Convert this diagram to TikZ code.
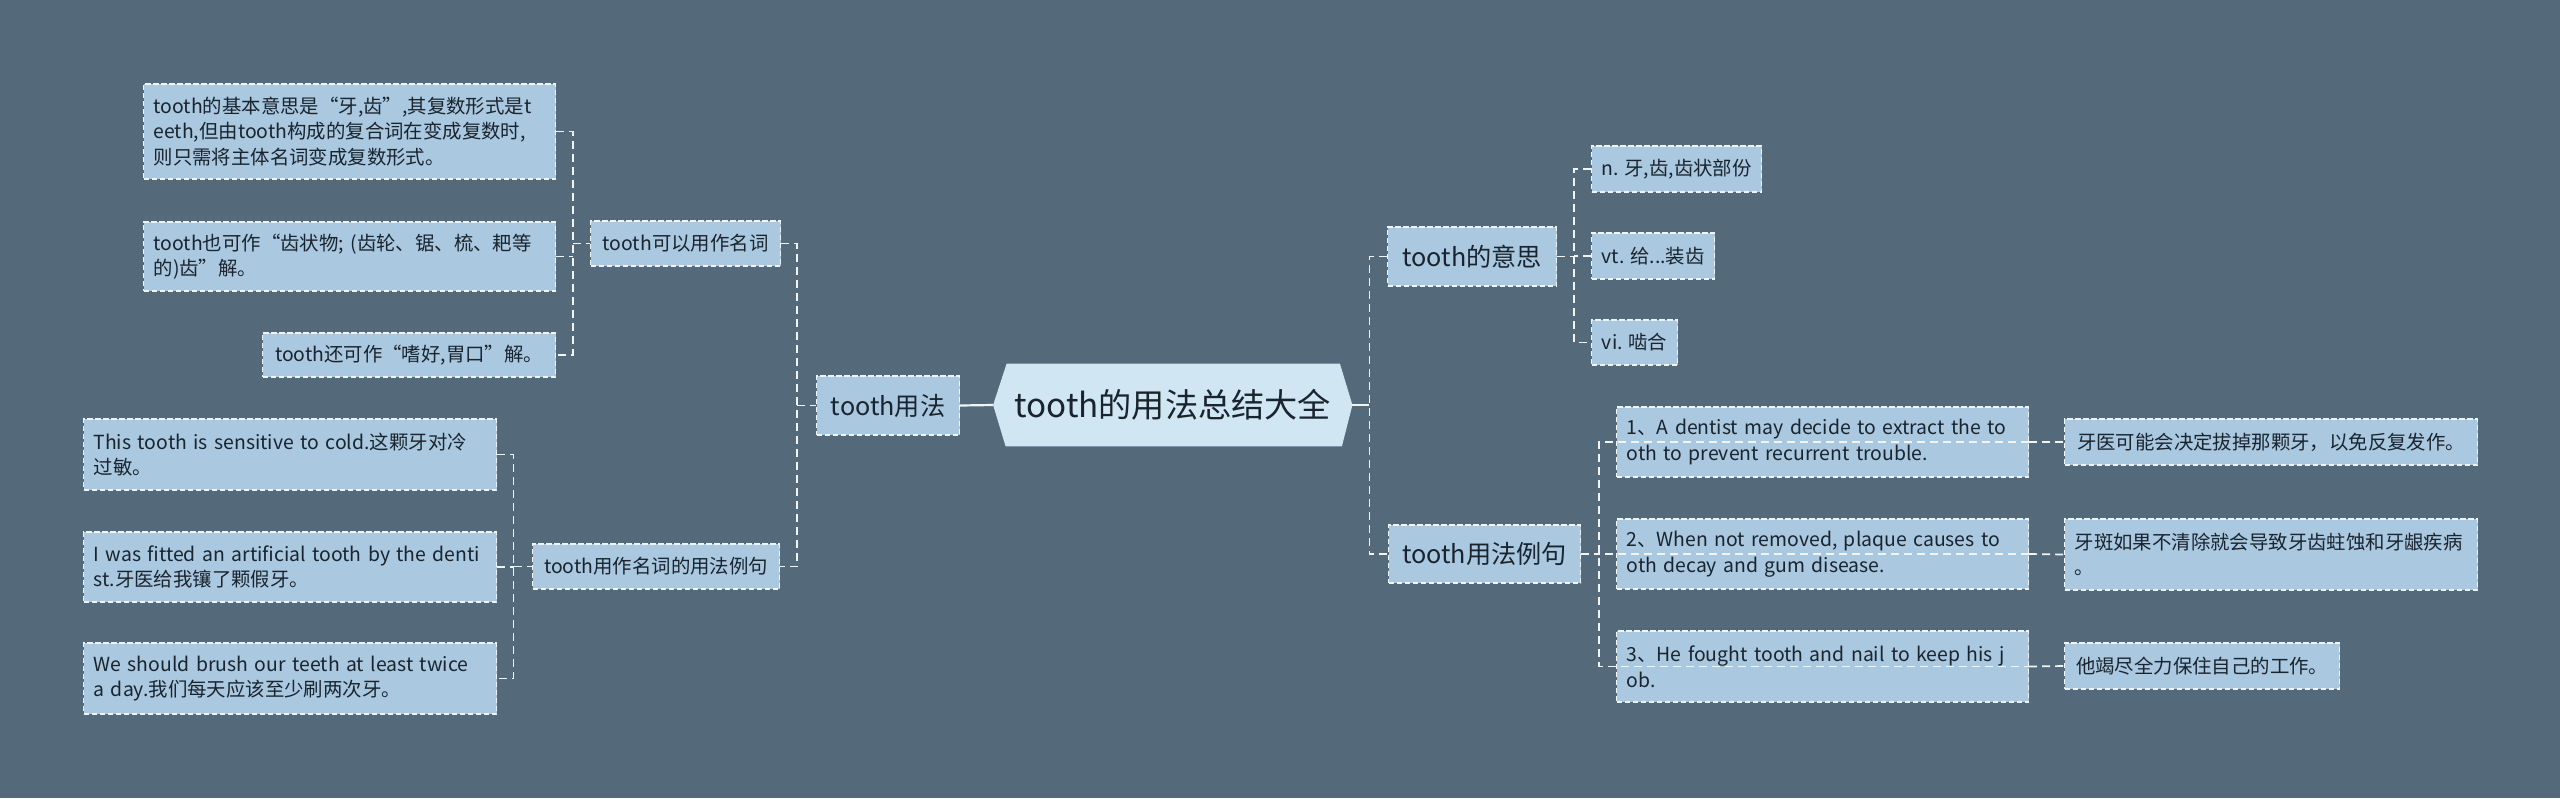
\documentclass[tikz,border=0pt]{standalone}
\usepackage{fontspec}
\setmainfont{Noto Sans CJK SC}
\usetikzlibrary{calc,backgrounds}
\definecolor{bgc}{HTML}{546A7A}
\definecolor{leaffill}{HTML}{AAC8E0}
\definecolor{rootfill}{HTML}{D0E6F2}
\definecolor{txt}{HTML}{1A242E}
\definecolor{edge}{HTML}{EEF4F8}
\begin{document}
\begin{tikzpicture}[x=0.5pt,y=-0.5pt,
  box/.style={draw=edge, dash pattern=on 2.6pt off 1.4pt, line width=0.6pt, fill=leaffill, text=txt, anchor=west, inner ysep=0pt},
  leaf/.style={box, font=\fontsize{9.7}{12.8}\selectfont, inner xsep=5pt, align=left},
  tag/.style={box, font=\fontsize{9.7}{12.8}\selectfont, inner xsep=0pt, align=center},
  mid/.style={box, font=\fontsize{12.6}{15}\selectfont, inner xsep=0pt, align=center},
  conn/.style={draw=edge, line width=0.85pt, dash pattern=on 4pt off 2.5pt},
  solidconn/.style={draw=edge, line width=1.1pt}]
\begin{pgfonlayer}{background}
\fill[bgc] (0,0) rectangle (2560,798);
\end{pgfonlayer}
\useasboundingbox (0,0) rectangle (2560,798);

% left, upper group
\node[leaf, text width=196pt, minimum height=47.5pt] (a) at (143,131.5)
  {\mbox{tooth的基本意思是“牙,齿”,其复数形式是t}\\\mbox{eeth,但由tooth构成的复合词在变成复数时,}\\\mbox{则只需将主体名词变成复数形式。}};
\node[leaf, text width=196pt, minimum height=34.5pt] (b) at (143,256.5)
  {\mbox{tooth也可作“齿状物; (齿轮、锯、梳、耙等}\\\mbox{的)齿”解。}};
\node[tag, minimum width=146.5pt, minimum height=22pt] (c) at (262,355) {tooth还可作“嗜好,胃口”解。};
\node[tag, minimum width=95pt, minimum height=22.5pt] (p1) at (590,243.5) {tooth可以用作名词};

% left, lower group
\node[leaf, text width=196.5pt, minimum height=35.5pt] (d) at (83,454.5)
  {\mbox{This tooth is sensitive to cold.这颗牙对冷}\\\mbox{过敏。}};
\node[leaf, text width=196.5pt, minimum height=35pt] (e) at (83,567)
  {\mbox{I was fitted an artificial tooth by the denti}\\\mbox{st.牙医给我镶了颗假牙。}};
\node[leaf, text width=196.5pt, minimum height=35.5pt] (f) at (83,678.5)
  {\mbox{We should brush our teeth at least twice}\\\mbox{a day.我们每天应该至少刷两次牙。}};
\node[tag, minimum width=123.5pt, minimum height=22.5pt] (p2) at (532,566.5) {tooth用作名词的用法例句};

\node[mid, minimum width=71.5pt, minimum height=29.5pt] (l1) at (816,405.5) {tooth用法};

% root
\node[text=txt, font=\fontsize{16.6}{19}\selectfont, minimum width=179.25pt, minimum height=41pt, inner sep=0pt] (root) at (1172.75,405) {tooth的用法总结大全};
\begin{pgfonlayer}{background}
\fill[rootfill] (root.west) -- ($(root.north west)+(13.5,0)$) -- ($(root.north east)+(-12.5,0)$) -- (root.east) -- ($(root.south east)+(-10.5,0)$) -- ($(root.south west)+(12.5,0)$) -- cycle;
\end{pgfonlayer}

% right, upper group
\node[mid, minimum width=84.5pt, minimum height=29.5pt] (r1) at (1387,256.5) {tooth的意思};
\node[tag, minimum width=85pt, minimum height=23pt] (n) at (1591,169) {n. 牙,齿,齿状部份};
\node[tag, minimum width=61.5pt, minimum height=23pt] (vt) at (1591,256) {vt. 给...装齿};
\node[tag, minimum width=43pt, minimum height=22.5pt] (vi) at (1591,342.5) {vi. 啮合};

% right, lower group
\node[mid, minimum width=96pt, minimum height=29pt] (r2) at (1388,554) {tooth用法例句};
\node[leaf, text width=196pt, minimum height=35pt] (s1) at (1616,442)
  {\mbox{1、A dentist may decide to extract the to}\\\mbox{oth to prevent recurrent trouble.}};
\node[leaf, text width=196pt, minimum height=35pt] (s2) at (1616,554)
  {\mbox{2、When not removed, plaque causes to}\\\mbox{oth decay and gum disease.}};
\node[leaf, text width=196pt, minimum height=35.5pt] (s3) at (1616,666.5)
  {\mbox{3、He fought tooth and nail to keep his j}\\\mbox{ob.}};
\node[tag, minimum width=206.5pt, minimum height=23pt] (t1) at (2064,442) {牙医可能会决定拔掉那颗牙，以免反复发作。};
\node[leaf, text width=196.5pt, minimum height=35.5pt] (t2) at (2064,554.5)
  {\mbox{牙斑如果不清除就会导致牙齿蛀蚀和牙龈疾病}\\\mbox{。}};
\node[tag, minimum width=137.5pt, minimum height=23pt] (t3) at (2064,666) {他竭尽全力保住自己的工作。};

% connectors
\coordinate (j1) at ($(p1.west)+(-17,0)$);
\draw[conn] (a.east) -- (a.east -| j1) -- (c.east -| j1) -- (c.east);
\draw[conn] (b.east) -- (b.east -| j1);
\draw[conn] (j1) -- (p1.west);

\coordinate (j2) at ($(p2.west)+(-18.5,0)$);
\draw[conn] (d.east) -- (d.east -| j2) -- (f.east -| j2) -- (f.east);
\draw[conn] (e.east) -- (e.east -| j2);
\draw[conn] (j2) -- (p2.west);

\coordinate (j3) at ($(l1.west)+(-19,0)$);
\draw[conn] (p1.east) -- (p1.east -| j3) -- (p2.east -| j3) -- (p2.east);
\draw[conn] (j3) -- (l1.west);

\draw[solidconn] (l1.east) -- (root.west);
\coordinate (j4) at ($(root.east)+(17,0)$);
\draw[solidconn] (root.east) -- (j4);
\draw[conn] (r1.west) -- (r1.west -| j4) -- (r2.west -| j4) -- (r2.west);

\coordinate (j5) at ($(r1.east)+(17,0)$);
\draw[conn] (r1.east) -- (j5);
\draw[conn] (n.west) -- (n.west -| j5) -- (vi.west -| j5) -- (vi.west);
\draw[conn] (vt.west) -- (vt.west -| j5);

\coordinate (j6) at ($(r2.east)+(18,0)$);
\draw[conn] (r2.east) -- (j6);
\draw[conn] (s1.east) -- (s1.east -| j6) -- (s3.east -| j6) -- (s3.east);
\draw[conn] (s2.east) -- (s2.east -| j6);

\draw[conn] (s1.east) -- (t1.west);
\draw[conn] (s2.east) -- (t2.west);
\draw[conn] (s3.east) -- (t3.west);
\end{tikzpicture}
\end{document}
